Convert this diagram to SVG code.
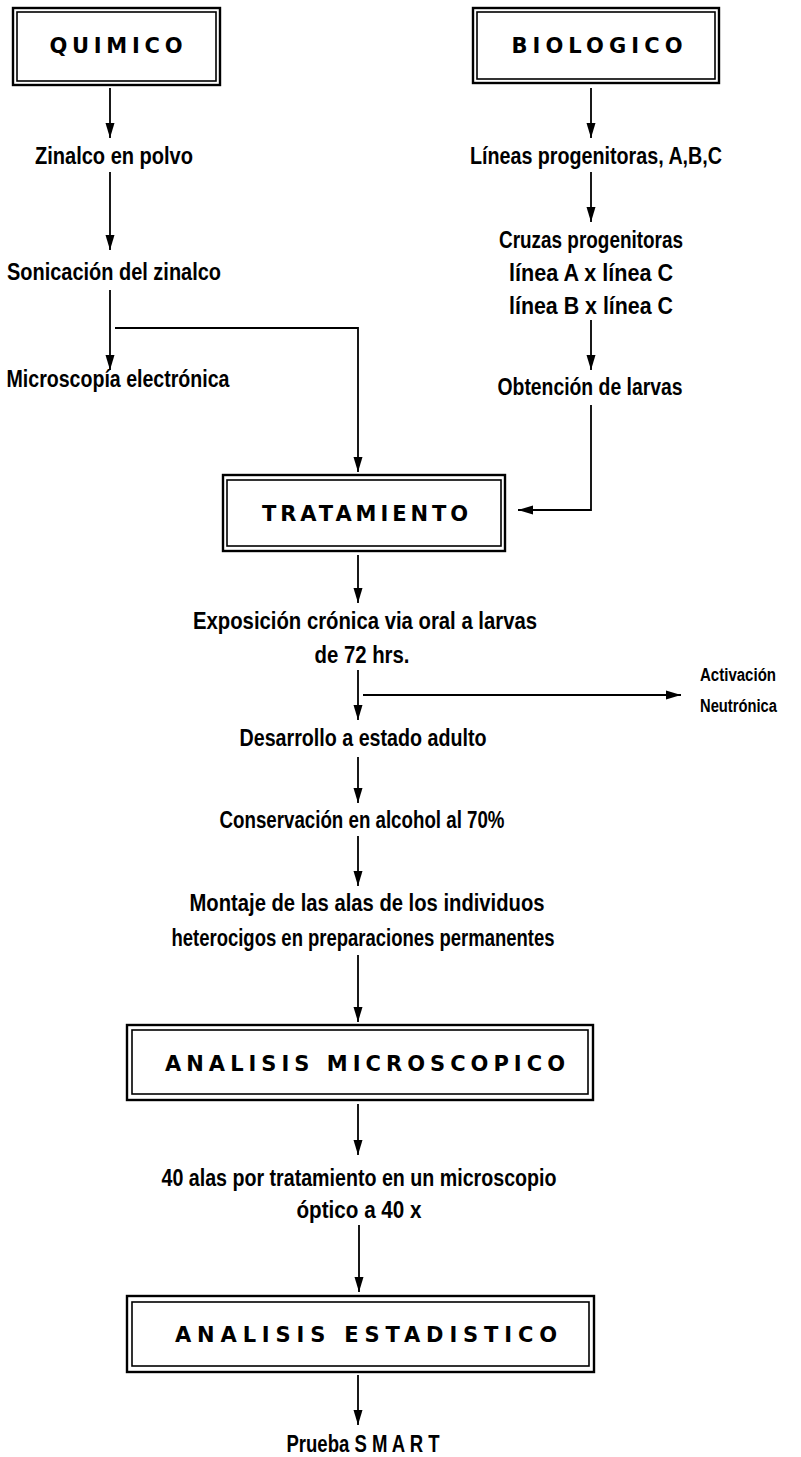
<svg xmlns="http://www.w3.org/2000/svg" width="801" height="1457" viewBox="0 0 801 1457">
<style>
  .outer{fill:none;stroke:#000;stroke-width:2.4}
  .inner{fill:none;stroke:#000;stroke-width:1.6}
  .title{font-family:"DejaVu Sans",sans-serif;font-weight:bold;font-size:21px;fill:#000;text-anchor:middle}
  .lbl{font-family:"Liberation Sans",sans-serif;font-weight:bold;font-size:23px;fill:#000;text-anchor:middle}
  .lbls{font-family:"Liberation Sans",sans-serif;font-weight:bold;font-size:18px;fill:#000;text-anchor:start}
  .con{fill:none;stroke:#000;stroke-width:1.8}
</style>
<defs>
  <marker id="arr" markerUnits="userSpaceOnUse" markerWidth="16" markerHeight="10" refX="15" refY="5" orient="auto">
    <path d="M0,0.5 L15,5 L0,9.5 z" fill="#000"/>
  </marker>
</defs>
<rect width="801" height="1457" fill="#fff"/>

<g id="quimico">
  <rect class="outer" x="13" y="8" width="207" height="77"/>
  <rect class="inner" x="17" y="12" width="199" height="69"/>
  <text class="title" x="116" y="53" textLength="133" lengthAdjust="spacing">QUIMICO</text>
</g>
<g id="biologico">
  <rect class="outer" x="473" y="8" width="246" height="75"/>
  <rect class="inner" x="477" y="12" width="238" height="67"/>
  <text class="title" x="597" y="53" textLength="171" lengthAdjust="spacing">BIOLOGICO</text>
</g>
<g id="zinalco"><text class="lbl" x="114" y="164" textLength="158" lengthAdjust="spacingAndGlyphs">Zinalco en polvo</text></g>
<g id="sonicacion"><text class="lbl" x="114" y="280" textLength="214" lengthAdjust="spacingAndGlyphs">Sonicación del zinalco</text></g>
<g id="microscopia"><text class="lbl" x="118" y="387" textLength="223" lengthAdjust="spacingAndGlyphs">Microscopía electrónica</text></g>
<g id="lineas"><text class="lbl" x="596" y="164" textLength="252" lengthAdjust="spacingAndGlyphs">Líneas progenitoras, A,B,C</text></g>
<g id="cruzas">
  <text class="lbl" x="591" y="248" textLength="184" lengthAdjust="spacingAndGlyphs">Cruzas progenitoras</text>
  <text class="lbl" x="591" y="281" textLength="164" lengthAdjust="spacingAndGlyphs">línea A x línea C</text>
  <text class="lbl" x="591" y="314" textLength="164" lengthAdjust="spacingAndGlyphs">línea B x línea C</text>
</g>
<g id="obtencion"><text class="lbl" x="590" y="395" textLength="185" lengthAdjust="spacingAndGlyphs">Obtención de larvas</text></g>
<g id="tratamiento">
  <rect class="outer" x="223" y="475" width="282" height="76"/>
  <rect class="inner" x="227" y="480" width="274" height="66"/>
  <text class="title" x="365" y="521" textLength="206" lengthAdjust="spacing">TRATAMIENTO</text>
</g>
<g id="exposicion">
  <text class="lbl" x="365" y="629" textLength="344" lengthAdjust="spacingAndGlyphs">Exposición crónica via oral a larvas</text>
  <text class="lbl" x="362" y="663" textLength="95" lengthAdjust="spacingAndGlyphs">de 72 hrs.</text>
</g>
<g id="activacion">
  <text class="lbls" x="700" y="681" textLength="76" lengthAdjust="spacingAndGlyphs">Activación</text>
  <text class="lbls" x="700" y="712" textLength="77" lengthAdjust="spacingAndGlyphs">Neutrónica</text>
</g>
<g id="desarrollo"><text class="lbl" x="363" y="746" textLength="247" lengthAdjust="spacingAndGlyphs">Desarrollo a estado adulto</text></g>
<g id="conservacion"><text class="lbl" x="362" y="828" textLength="285" lengthAdjust="spacingAndGlyphs">Conservación en alcohol al 70%</text></g>
<g id="montaje">
  <text class="lbl" x="367" y="911" textLength="355" lengthAdjust="spacingAndGlyphs">Montaje de las alas de los individuos</text>
  <text class="lbl" x="363" y="946" textLength="383" lengthAdjust="spacingAndGlyphs">heterocigos en preparaciones permanentes</text>
</g>
<g id="analisis-microscopico">
  <rect class="outer" x="127" y="1025" width="466" height="75"/>
  <rect class="inner" x="132" y="1030" width="456" height="64"/>
  <text class="title" x="365" y="1071" textLength="400" lengthAdjust="spacing">ANALISIS MICROSCOPICO</text>
</g>
<g id="alas">
  <text class="lbl" x="359" y="1186" textLength="395" lengthAdjust="spacingAndGlyphs">40 alas por tratamiento en un microscopio</text>
  <text class="lbl" x="359" y="1218" textLength="125" lengthAdjust="spacingAndGlyphs">óptico a 40 x</text>
</g>
<g id="analisis-estadistico">
  <rect class="outer" x="127" y="1296" width="467" height="76"/>
  <rect class="inner" x="132" y="1302" width="457" height="64"/>
  <text class="title" x="366" y="1342" textLength="382" lengthAdjust="spacing">ANALISIS ESTADISTICO</text>
</g>
<g id="prueba"><text class="lbl" x="363" y="1452" textLength="153" lengthAdjust="spacingAndGlyphs">Prueba S M A R T</text></g>

<g id="connectors">
  <path class="con" d="M110,88 V138" marker-end="url(#arr)"/>
  <path class="con" d="M110,172 V250" marker-end="url(#arr)"/>
  <path class="con" d="M110,290 V370" marker-end="url(#arr)"/>
  <path class="con" d="M115,328 H358 V472" marker-end="url(#arr)"/>
  <path class="con" d="M591,88 V138" marker-end="url(#arr)"/>
  <path class="con" d="M591,172 V222" marker-end="url(#arr)"/>
  <path class="con" d="M591,320 V370" marker-end="url(#arr)"/>
  <path class="con" d="M591,405 V510 H518" marker-end="url(#arr)"/>
  <path class="con" d="M358,555 V603" marker-end="url(#arr)"/>
  <path class="con" d="M358,670 V720" marker-end="url(#arr)"/>
  <path class="con" d="M363,695 H681" marker-end="url(#arr)"/>
  <path class="con" d="M358,757 V803" marker-end="url(#arr)"/>
  <path class="con" d="M358,836 V886" marker-end="url(#arr)"/>
  <path class="con" d="M358,955 V1022" marker-end="url(#arr)"/>
  <path class="con" d="M358,1104 V1155" marker-end="url(#arr)"/>
  <path class="con" d="M359,1225 V1292" marker-end="url(#arr)"/>
  <path class="con" d="M358,1375 V1425" marker-end="url(#arr)"/>
</g>
</svg>
